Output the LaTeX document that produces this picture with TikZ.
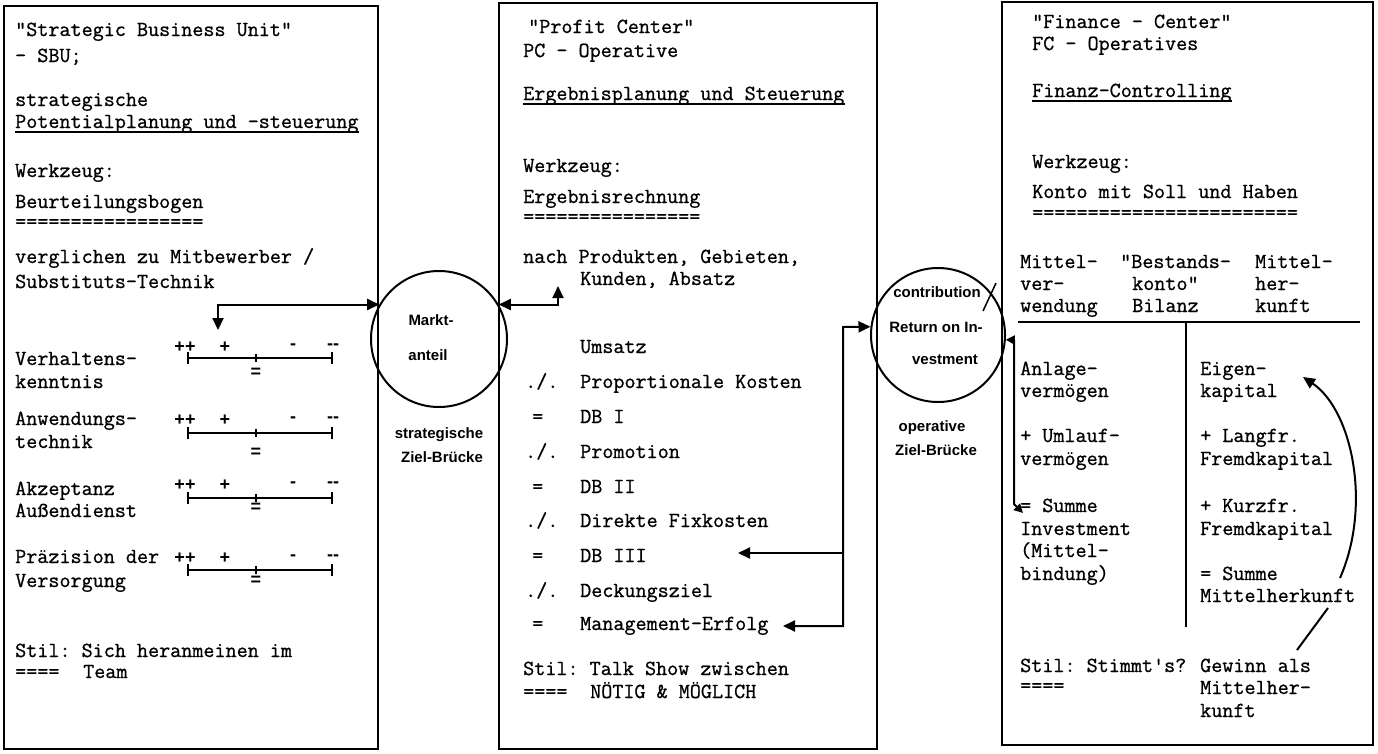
\documentclass[tikz,border=0pt]{standalone}
\usepackage{fontspec}
\newfontfamily\labfont{Liberation Sans}
\newfontfamily\twfont{Latin Modern Mono}[FakeBold=0.9]
\usetikzlibrary{arrows.meta}
\frenchspacing
\tikzset{
  txt/.style={anchor=base west, inner sep=0pt, font=\twfont\fontsize{21.5}{24}\selectfont},
  lab/.style={inner sep=0pt, font=\labfont\bfseries\fontsize{15}{17}\selectfont},
  sym/.style={inner sep=0pt, font=\labfont\bfseries\fontsize{18}{18}\selectfont},
  panel/.style={draw, line width=2pt},
  bridge/.style={draw, circle, line width=2pt, inner sep=0pt},
  conn/.style={line width=2pt},
  uline/.style={line width=1.5pt},
  tipA/.tip={Triangle[length=12pt,width=11pt]},
  tipB/.tip={Triangle[length=9pt,width=9pt]}
}
\newcommand\tl[3]{\node[txt] (#1) at (#2) {#3};}
\newcommand\rscale[4]{%
  \node[sym] (#1a) at (185,#3) {++};
  \node[sym] (#1b) at (225,#3) {+};
  \node[sym] (#1c) at (293,#3) {-};
  \node[sym] (#1d) at (333,#3) {--};
  \node[sym] (#1e) at (256,#4) {=};
  \draw[conn] (188,#2) -- (332,#2);
  \draw[conn] (188,#2-6) -- (188,#2+6);
  \draw[conn] (332,#2-6) -- (332,#2+6);
  \draw[conn] (256,#2-4) -- (256,#2+4);
}
\begin{document}
\begin{tikzpicture}[x=1pt,y=-1pt]
\useasboundingbox (0,0) rectangle (1378,753);
% panels
\draw[panel] (4,6) rectangle (378,749);
\draw[panel] (499,3) rectangle (877,749);
\draw[panel] (1002,1.5) rectangle (1373,745);
% bridges
\node[bridge, minimum size=136pt] (c1) at (439,339) {};
\node[bridge, minimum size=134pt] (c2) at (938,335) {};
\node[lab] (m1) at (431,320) {Markt-};
\node[lab] (m2) at (428,355) {anteil};
\node[lab] (m3) at (439,435) {strategische};
\node[lab] (m4) at (442,457) {Ziel-Brücke};
\node[lab] (r1) at (937,292) {contribution};
\node[lab] (r2) at (936,327) {Return on In-};
\node[lab] (r3) at (945,360) {vestment};
\node[lab] (r4) at (932,428) {operative};
\node[lab] (r5) at (936,450) {Ziel-Brücke};
% left panel
\tl{a1}{15,36}{"Strategic Business Unit"}
\tl{a2}{15,62}{- SBU;}
\tl{a3}{15,106}{strategische}
\tl{a4}{15,128}{Potentialplanung und -steuerung}
\tl{a5}{15,177}{Werkzeug:}
\tl{a6}{15,208}{Beurteilungsbogen}
\tl{a7}{15,228}{=================}
\tl{a8}{15,263}{verglichen zu Mitbewerber /}
\tl{a9}{15,288}{Substituts-Technik}
\tl{a10}{15,365}{Verhaltens-}
\tl{a11}{15,388}{kenntnis}
\tl{a12}{15,425}{Anwendungs-}
\tl{a13}{15,448}{technik}
\tl{a14}{15,495}{Akzeptanz}
\tl{a15}{15,517}{Außendienst}
\tl{a16}{15,563}{Präzision der}
\tl{a17}{15,587}{Versorgung}
\tl{a18}{15,657}{Stil: Sich heranmeinen im}
\tl{a19}{15,678}{====}
\tl{a20}{83,678}{Team}
\draw[uline] ([yshift=-4pt]a4.base west) -- ([yshift=-4pt]a4.base east);
\rscale{s1}{358}{347}{373}
\rscale{s2}{433}{420}{453}
\rscale{s3}{498}{485}{508}
\rscale{s4}{570}{558}{581}
% middle panel
\tl{b1}{528,33}{"Profit Center"}
\tl{b2}{523,57}{PC - Operative}
\tl{b3}{523,100}{Ergebnisplanung und Steuerung}
\tl{b4}{523,172}{Werkzeug:}
\tl{b5}{523,203}{Ergebnisrechnung}
\tl{b6}{523,223}{================}
\tl{b7}{523,263}{nach Produkten, Gebieten,}
\tl{b8}{580,285}{Kunden, Absatz}
\tl{b9}{580,353}{Umsatz}
\tl{b10}{525,388}{./.}
\tl{b11}{580,388}{Proportionale Kosten}
\tl{b12}{532,423}{=}
\tl{b13}{580,423}{DB I}
\tl{b14}{525,458}{./.}
\tl{b15}{580,458}{Promotion}
\tl{b16}{532,493}{=}
\tl{b17}{580,493}{DB II}
\tl{b18}{525,527}{./.}
\tl{b19}{580,527}{Direkte Fixkosten}
\tl{b20}{532,562}{=}
\tl{b21}{580,562}{DB III}
\tl{b22}{525,597}{./.}
\tl{b23}{580,597}{Deckungsziel}
\tl{b24}{532,630}{=}
\tl{b25}{580,630}{Management-Erfolg}
\tl{b26}{523,675}{Stil: Talk Show zwischen}
\tl{b27}{523,698}{====}
\tl{b28}{590,698}{NÖTIG \& MÖGLICH}
\draw[uline] ([yshift=-4pt]b3.base west) -- ([yshift=-4pt]b3.base east);
% right panel
\tl{c1t}{1032,28}{"Finance - Center"}
\tl{c2t}{1032,50}{FC - Operatives}
\tl{c3t}{1032,97}{Finanz-Controlling}
\tl{c4t}{1032,168}{Werkzeug:}
\tl{c5t}{1032,198}{Konto mit Soll und Haben}
\tl{c6t}{1032,219}{========================}
\tl{c7t}{1020,268}{Mittel-}
\tl{c8t}{1020,290}{ver-}
\tl{c9t}{1020,312}{wendung}
\tl{c10t}{1120,268}{"Bestands-}
\tl{c11t}{1132,290}{konto"}
\tl{c12t}{1132,312}{Bilanz}
\tl{c13t}{1255,268}{Mittel-}
\tl{c14t}{1255,290}{her-}
\tl{c15t}{1255,312}{kunft}
\tl{c16t}{1020,375}{Anlage-}
\tl{c17t}{1020,397}{vermögen}
\tl{c18t}{1020,442}{+ Umlauf-}
\tl{c19t}{1020,465}{vermögen}
\tl{c20t}{1020,512}{= Summe}
\tl{c21t}{1020,535}{Investment}
\tl{c22t}{1020,557}{(Mittel-}
\tl{c23t}{1020,580}{bindung)}
\tl{c24t}{1200,375}{Eigen-}
\tl{c25t}{1200,397}{kapital}
\tl{c26t}{1200,442}{+ Langfr.}
\tl{c27t}{1200,465}{Fremdkapital}
\tl{c28t}{1200,512}{+ Kurzfr.}
\tl{c29t}{1200,535}{Fremdkapital}
\tl{c30t}{1200,580}{= Summe}
\tl{c31t}{1200,602}{Mittelherkunft}
\tl{c32t}{1020,672}{Stil: Stimmt's?}
\tl{c33t}{1020,692}{====}
\tl{c34t}{1200,672}{Gewinn als}
\tl{c35t}{1200,694}{Mittelher-}
\tl{c36t}{1200,717}{kunft}
\draw[uline] ([yshift=-4pt]c3t.base west) -- ([yshift=-4pt]c3t.base east);
\draw[conn] (1018,322) -- (1360,322);
\draw[conn] (1186,322) -- (1186,627);
% connector points
\coordinate (p1) at (218,330);
\coordinate (p2) at (558,286);
\coordinate (p3) at (783,626);
\coordinate (j1) at (843,327);
\coordinate (j2) at (843,553);
\coordinate (p4) at (738,553);
\coordinate (k1) at (1014,340);
\coordinate (k2) at (1014,504);
\coordinate (p5) at (1023,513);
\coordinate (g1) at (1340,578);
\coordinate (e1) at (1303,377);
\coordinate (g2) at (1297,650);
\coordinate (g3) at (1328,608);
\coordinate (s1) at (983,311);
\coordinate (s2) at (996,283);
% connectors
\draw[conn, tipA-tipA] (c1.150) -| (p1);
\draw[conn, tipA-tipA] (c1.30) -| (p2);
\draw[conn, tipA-tipA] (p3) -| (j1) -- (c2.173);
\draw[conn, -tipA] (j2) -- (p4);
\draw[conn, tipB-tipB] (c2.-4) -- (k1) -- (k2) -- (p5);
\draw[conn, -tipA] (g1) .. controls (1372,505) and (1352,410) .. (e1);
\draw[conn] (g2) -- (g3);
\draw[uline] (s1) -- (s2);
\end{tikzpicture}
\end{document}
